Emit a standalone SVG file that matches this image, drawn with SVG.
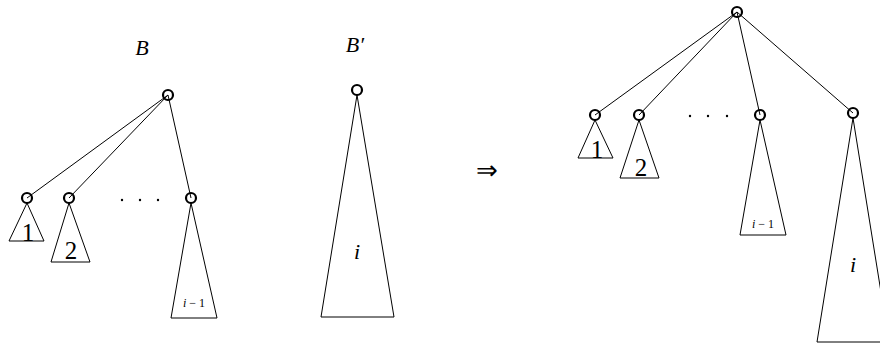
<svg xmlns="http://www.w3.org/2000/svg" width="880" height="345" viewBox="0 0 880 345">
<style>
.e{stroke:#000;stroke-width:1;fill:none}
.t{stroke:#000;stroke-width:1;fill:none}
.n{stroke:#000;stroke-width:2.2;fill:none}
.lb{font-family:"Liberation Serif",serif;font-size:22px;text-anchor:middle;fill:#000}
.dg{font-family:"Liberation Serif",serif;font-size:25px;text-anchor:middle;fill:#000}
.it{font-style:italic}
.sm{font-family:"Liberation Serif",serif;font-size:12px;text-anchor:middle;fill:#000}
.dt{fill:#000}
</style>
<rect width="880" height="345" fill="#fff"/>
<g id="connectors">
<line class="e" x1="168" y1="95" x2="27" y2="198"/>
<line class="e" x1="168" y1="95" x2="69" y2="198"/>
<line class="e" x1="168" y1="95" x2="191" y2="198"/>
<line class="e" x1="737" y1="12" x2="595" y2="115"/>
<line class="e" x1="737" y1="12" x2="639" y2="115"/>
<line class="e" x1="737" y1="12" x2="760" y2="115"/>
<line class="e" x1="737" y1="12" x2="853" y2="113"/>
</g>
<g id="labelB"><text class="lb it" x="142" y="55">B</text></g>
<g id="labelBp"><text class="lb it" x="355" y="52">B′</text></g>
<g id="B-root"><circle class="n" cx="168" cy="95" r="5"/></g>
<g id="B-c1"><circle class="n" cx="27" cy="198" r="5"/><polygon class="t" points="27,203 9,241 44,241"/><text class="dg" x="28" y="241">1</text></g>
<g id="B-c2"><circle class="n" cx="69" cy="198" r="5"/><polygon class="t" points="69,203 51,262 90,262"/><text class="dg" x="71" y="259">2</text></g>
<g id="B-dots"><circle class="dt" cx="122" cy="200" r="1.2"/><circle class="dt" cx="140" cy="200" r="1.2"/><circle class="dt" cx="158" cy="200" r="1.2"/></g>
<g id="B-ci"><circle class="n" cx="191" cy="198" r="5"/><polygon class="t" points="191,203 171,318 217,318"/><text class="sm" x="194" y="307"><tspan class="it">i</tspan> − 1</text></g>
<g id="Bp"><circle class="n" cx="357" cy="90" r="5"/><polygon class="t" points="357,95 321,317 394,317"/><text class="lb it" x="357" y="259">i</text></g>
<g id="arrow"><text class="lb" x="487" y="179" style="font-size:26px">⇒</text></g>
<g id="R-root"><circle class="n" cx="737" cy="12" r="5"/></g>
<g id="R-c1"><circle class="n" cx="595" cy="115" r="5"/><polygon class="t" points="595,120 578,158 613,158"/><text class="dg" x="597" y="158">1</text></g>
<g id="R-c2"><circle class="n" cx="639" cy="115" r="5"/><polygon class="t" points="639,120 620,178 659,178"/><text class="dg" x="641" y="176">2</text></g>
<g id="R-dots"><circle class="dt" cx="690" cy="116" r="1.2"/><circle class="dt" cx="708" cy="116" r="1.2"/><circle class="dt" cx="727" cy="116" r="1.2"/></g>
<g id="R-ci1"><circle class="n" cx="760" cy="115" r="5"/><polygon class="t" points="760,120 740,235 786,235"/><text class="sm" x="763" y="228"><tspan class="it">i</tspan> − 1</text></g>
<g id="R-ci"><circle class="n" cx="853" cy="113" r="5"/><polygon class="t" points="853,118 817,342 889,342"/><text class="lb it" x="853" y="272">i</text></g>
</svg>
